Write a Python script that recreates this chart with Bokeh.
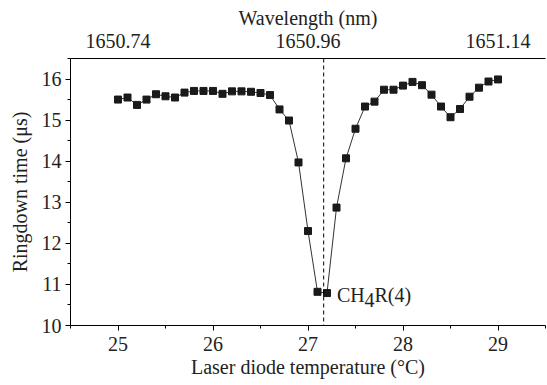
from bokeh.plotting import figure
from bokeh.models import LinearAxis, FixedTicker, Span, Range1d
from bokeh.core.properties import value
from bokeh.embed import file_html
from bokeh.resources import INLINE

temperature = [25.0, 25.1, 25.2, 25.3, 25.4, 25.5, 25.6, 25.7, 25.8, 25.9,
               26.0, 26.1, 26.2, 26.3, 26.4, 26.5, 26.6, 26.7, 26.8, 26.9,
               27.0, 27.1, 27.2, 27.3, 27.4, 27.5, 27.6, 27.7, 27.8, 27.9,
               28.0, 28.1, 28.2, 28.3, 28.4, 28.5, 28.6, 28.7, 28.8, 28.9, 29.0]
ringdown = [15.50, 15.55, 15.37, 15.50, 15.63, 15.58, 15.55, 15.67, 15.71, 15.71,
            15.71, 15.64, 15.70, 15.70, 15.69, 15.66, 15.61, 15.26, 14.99, 13.97,
            12.30, 10.82, 10.79, 12.87, 14.07, 14.79, 15.33, 15.45, 15.74, 15.74,
            15.84, 15.93, 15.85, 15.62, 15.33, 15.07, 15.27, 15.57, 15.79, 15.94, 15.99]

x_ticks = [25, 26, 27, 28, 29]
x_minor = [24.5, 25.5, 26.5, 27.5, 28.5, 29.5]
y_ticks = [10, 11, 12, 13, 14, 15, 16]
wl_tick_pos = [25, 27, 29]
wl_tick_labels = ["1650.74", "1650.96", "1651.14"]
line_center = 27.165
peak_label = ("CH", "4", "R(4)")
peak_point = (27.2, 10.79)

FONT = "Liberation Serif"
FS = "20px"

p = figure(width=546, height=384, output_backend="svg", toolbar_location=None,
           x_range=Range1d(24.5, 29.5), y_range=Range1d(10, 16.5),
           min_border_left=70, min_border_right=1, min_border_top=58, min_border_bottom=59)
p.outline_line_color = None
p.xgrid.visible = False
p.ygrid.visible = False
p.background_fill_color = "white"
p.border_fill_color = "white"

xa = p.xaxis[0]
xa.ticker = FixedTicker(ticks=x_ticks, minor_ticks=x_minor)
xa.axis_label = "Laser diode temperature (°C)"
ya = p.yaxis[0]
ya.ticker = FixedTicker(ticks=y_ticks, minor_ticks=[v + 0.5 for v in y_ticks])
ya.axis_label = "Ringdown time (μs)"

for ax in (xa, ya):
    ax.axis_line_color = "black"
    ax.major_tick_line_color = "black"
    ax.minor_tick_line_color = "black"
    ax.major_tick_in = 0
    ax.major_tick_out = 5
    ax.minor_tick_in = 0
    ax.minor_tick_out = 3
    ax.major_label_text_font = FONT
    ax.major_label_text_font_size = FS
    ax.major_label_text_color = "#222222"
    ax.axis_label_text_font = FONT
    ax.axis_label_text_font_size = FS
    ax.axis_label_text_font_style = "normal"
    ax.axis_label_text_color = "#222222"
xa.major_label_standoff = 6
xa.axis_label_standoff = 2
ya.major_label_standoff = 4
ya.axis_label_standoff = 8

top = LinearAxis(ticker=FixedTicker(ticks=wl_tick_pos, minor_ticks=[]),
                 major_label_overrides={t: l for t, l in zip(wl_tick_pos, wl_tick_labels)},
                 axis_label="Wavelength (nm)")
top.axis_line_color = "black"
top.major_tick_out = 0
top.major_tick_in = 0
top.minor_tick_out = 0
top.minor_tick_in = 0
top.major_label_standoff = 11
top.axis_label_standoff = 2
top.major_label_text_font = FONT
top.major_label_text_font_size = FS
top.major_label_text_color = "#222222"
top.axis_label_text_font = FONT
top.axis_label_text_font_size = FS
top.axis_label_text_font_style = "normal"
top.axis_label_text_color = "#222222"
p.add_layout(top, "above")

p.add_layout(Span(location=line_center, dimension="height", line_color="black",
                  line_width=1, line_dash="4 3"))

p.line(temperature, ringdown, line_color="#333333", line_width=1)
p.scatter(temperature, ringdown, marker="square", size=7,
          fill_color="#1a1a1a", line_color="#1a1a1a")

px, py = peak_point
p.text(x=[px], y=[py], text=[peak_label[0]], x_offset=10, y_offset=2,
       text_baseline="alphabetic", text_align="left",
       text_font=value(FONT), text_font_size=FS, text_color="#222222")
p.text(x=[px], y=[py], text=[peak_label[1]], x_offset=37.5, y_offset=7,
       text_baseline="alphabetic", text_align="left",
       text_font=value(FONT), text_font_size=FS, text_color="#222222")
p.text(x=[px], y=[py], text=[peak_label[2]], x_offset=47.5, y_offset=2,
       text_baseline="alphabetic", text_align="left",
       text_font=value(FONT), text_font_size=FS, text_color="#222222")

open("out.html", "w").write(file_html(p, INLINE))
